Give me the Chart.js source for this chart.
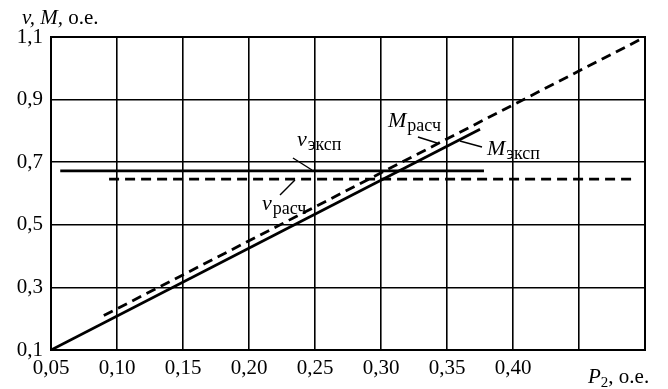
<!DOCTYPE html>
<html>
<head>
<meta charset="utf-8">
<script src="https://cdn.jsdelivr.net/npm/chart.js@4"></script>
<style>
  html, body { margin: 0; padding: 0; background: #fff; }
  #wrap { width: 668px; height: 389px; }
</style>
</head>
<body>
<div id="wrap"><canvas id="grafico" width="668" height="389"></canvas></div>
<script>
// данные (P2, o.e. -> v, M, o.e.)
const vExpX = [0.057, 0.378];
const vExpY = [0.672, 0.672];
const vCalcX = [0.094, 0.492];
const vCalcY = [0.646, 0.646];
const mExpX = [0.05, 0.375];
const mExpY = [0.10, 0.805];
const mCalcX = [0.09, 0.50];
const mCalcY = [0.21, 1.10];

const xTicks = [0.05, 0.10, 0.15, 0.20, 0.25, 0.30, 0.35, 0.40];
const yTicks = [0.1, 0.3, 0.5, 0.7, 0.9, 1.1];

// подписи кривых: текст, индекс, позиция в единицах осей, выноска
const labels = [
  { main: 'v', sub: 'эксп', x: 0.2364, y: 0.752, line: [0.2333, 0.7134, 0.2477, 0.675] },
  { main: 'v', sub: 'расч', x: 0.2098, y: 0.547, line: [0.2235, 0.595, 0.2348, 0.643] },
  { main: 'M', sub: 'расч', x: 0.3053, y: 0.8125, line: [0.3280, 0.7805, 0.3424, 0.7613] },
  { main: 'M', sub: 'эксп', x: 0.3803, y: 0.723, line: [0.3598, 0.7677, 0.3765, 0.7486] }
];

const FONT = "'Liberation Serif', 'DejaVu Serif', serif";

function pares(xs, ys) {
  return xs.map((x, i) => ({ x: x, y: ys[i] }));
}

const legendasPlugin = {
  id: 'legendas',
  afterDraw(chart) {
    const ctx = chart.ctx;
    const sx = chart.scales.x, sy = chart.scales.y;
    const a = chart.chartArea;
    ctx.save();
    // рамка
    ctx.strokeStyle = '#000';
    ctx.lineWidth = 2;
    ctx.strokeRect(a.left, a.top, a.right - a.left, a.bottom - a.top);

    ctx.fillStyle = '#000';
    ctx.textBaseline = 'alphabetic';
    ctx.textAlign = 'left';
    labels.forEach(l => {
      const px = sx.getPixelForValue(l.x), py = sy.getPixelForValue(l.y);
      ctx.font = 'italic 22px ' + FONT;
      ctx.fillText(l.main, px, py);
      const w = ctx.measureText(l.main).width;
      ctx.font = '18px ' + FONT;
      ctx.fillText(l.sub, px + w + 1, py + 4);
      ctx.lineWidth = 1.4;
      ctx.beginPath();
      ctx.moveTo(sx.getPixelForValue(l.line[0]), sy.getPixelForValue(l.line[1]));
      ctx.lineTo(sx.getPixelForValue(l.line[2]), sy.getPixelForValue(l.line[3]));
      ctx.stroke();
    });

    // подпись оси Y
    let x0 = a.left - 29, y0 = 24;
    ctx.font = 'italic 21px ' + FONT;
    ctx.fillText('v, M,', x0, y0);
    x0 += ctx.measureText('v, M, ').width;
    ctx.font = '21px ' + FONT;
    ctx.fillText('o.e.', x0, y0);

    // подпись оси X
    x0 = a.right - 57; y0 = 383;
    ctx.font = 'italic 21px ' + FONT;
    ctx.fillText('P', x0, y0);
    x0 += ctx.measureText('P').width;
    ctx.font = '15px ' + FONT;
    ctx.fillText('2', x0, y0 + 4);
    x0 += ctx.measureText('2').width;
    ctx.font = '21px ' + FONT;
    ctx.fillText(', o.e.', x0, y0);
    ctx.restore();
  }
};

const ctx = document.getElementById('grafico').getContext('2d');
new Chart(ctx, {
  type: 'line',
  data: {
    datasets: [
      { label: 'v эксп', data: pares(vExpX, vExpY), borderColor: '#000', borderWidth: 2.8, pointRadius: 0, fill: false },
      { label: 'v расч', data: pares(vCalcX, vCalcY), borderColor: '#000', borderWidth: 2.8, borderDash: [10, 6], pointRadius: 0, fill: false },
      { label: 'M эксп', data: pares(mExpX, mExpY), borderColor: '#000', borderWidth: 2.8, pointRadius: 0, fill: false },
      { label: 'M расч', data: pares(mCalcX, mCalcY), borderColor: '#000', borderWidth: 2.8, borderDash: [10, 6], pointRadius: 0, fill: false }
    ]
  },
  options: {
    responsive: false,
    animation: false,
    layout: { padding: { left: 0, top: 37, right: 23, bottom: 0 } },
    plugins: { legend: { display: false }, tooltip: { enabled: false } },
    scales: {
      x: {
        type: 'linear',
        min: 0.05,
        max: 0.50,
        afterBuildTicks: s => { s.ticks = xTicks.concat([0.45, 0.50]).map(v => ({ value: v })); },
        afterFit: s => { s.height = 39; },
        ticks: {
          autoSkip: false,
          maxRotation: 0,
          padding: 6,
          color: '#000',
          font: { family: FONT, size: 21 },
          callback: v => (xTicks.some(t => Math.abs(t - v) < 1e-6) ? v.toFixed(2).replace('.', ',') : '')
        },
        grid: { color: '#000', lineWidth: 1.6, drawTicks: false },
        border: { color: '#000', width: 2 }
      },
      y: {
        type: 'linear',
        min: 0.1,
        max: 1.1,
        afterBuildTicks: s => { s.ticks = yTicks.map(v => ({ value: v })); },
        afterFit: s => { s.width = 51; },
        ticks: {
          padding: 8,
          color: '#000',
          font: { family: FONT, size: 21 },
          callback: v => v.toFixed(1).replace('.', ',')
        },
        grid: { color: '#000', lineWidth: 1.6, drawTicks: false },
        border: { color: '#000', width: 2 }
      }
    }
  },
  plugins: [legendasPlugin]
});
</script>
</body>
</html>
